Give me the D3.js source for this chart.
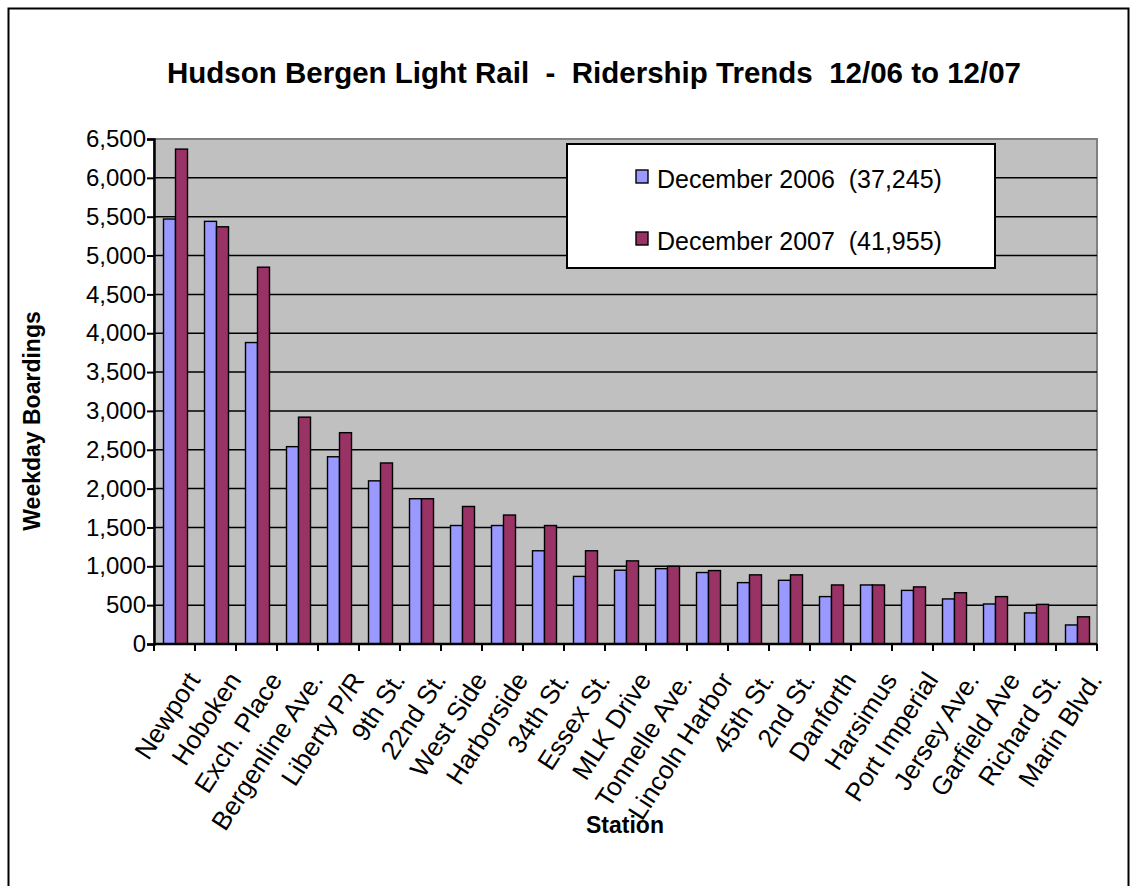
<!DOCTYPE html>
<html>
<head>
<meta charset="utf-8">
<title>HBLR Ridership Trends</title>
<script src="https://cdnjs.cloudflare.com/ajax/libs/d3/7.8.5/d3.min.js"></script>
<style>
body { margin: 0; background: #fff; }
text { font-family: Arial, "Liberation Sans", sans-serif; fill: #000; }
</style>
</head>
<body>
<script>
// stations, biggest first
var stations = ["Newport", "Hoboken", "Exch. Place", "Bergenline Ave.", "Liberty P/R",
  "9th St.", "22nd St.", "West Side", "Harborside", "34th St.", "Essex St.", "MLK Drive",
  "Tonnelle Ave.", "Lincoln Harbor", "45th St.", "2nd St.", "Danforth", "Harsimus",
  "Port Imperial", "Jersey Ave.", "Garfield Ave", "Richard St.", "Marin Blvd."];
var dec2006 = [5470, 5440, 3880, 2540, 2410, 2100, 1870, 1525, 1525, 1200, 870, 950,
  970, 920, 790, 820, 610, 760, 690, 580, 515, 400, 245];
var dec2007 = [6370, 5370, 4850, 2920, 2720, 2330, 1870, 1770, 1660, 1525, 1200, 1070,
  1000, 945, 890, 890, 760, 760, 735, 660, 610, 510, 350];
var seriesNames = ["December 2006  (37,245)", "December 2007  (41,955)"];
var seriesColors = ["#9999ff", "#993366"];
var yTicks = d3.range(0, 6501, 500);

var width = 1138, height = 886;
var pl = 154, pr = 1097, pt = 139, pb = 644;

var svg = d3.select("body").append("svg")
  .attr("width", width)
  .attr("height", height);

// chart frame
svg.append("rect")
  .attr("x", 8.5).attr("y", 8.5)
  .attr("width", 1120).attr("height", 900)
  .attr("fill", "#fff")
  .attr("stroke", "#000")
  .attr("stroke-width", 2);

var x = d3.scaleBand().domain(stations).range([pl, pr]);
var y = d3.scaleLinear().domain([0, 6500]).range([pb, pt]);
var xs = d3.scaleBand().domain([0, 1]).range([0, 24]);

// plot area
svg.append("rect")
  .attr("x", pl).attr("y", pt)
  .attr("width", pr - pl).attr("height", pb - pt)
  .attr("fill", "#c0c0c0")
  .attr("stroke", "#808080")
  .attr("stroke-width", 2);

svg.append("g").selectAll("line")
  .data(yTicks.filter(function(d){ return d > 0 && d < 6500; }))
  .enter().append("line")
  .attr("x1", pl).attr("x2", pr)
  .attr("y1", function(d){ return y(d); })
  .attr("y2", function(d){ return y(d); })
  .attr("stroke", "#000")
  .attr("stroke-width", 1.5);

// bars
var rows = stations.map(function(s, i){ return {name: s, v: [dec2006[i], dec2007[i]]}; });
var grp = svg.append("g").selectAll("g")
  .data(rows)
  .enter().append("g")
  .attr("transform", function(d){ return "translate(" + (x(d.name) + (x.bandwidth() - 24) / 2 + 1) + ",0)"; });
grp.selectAll("rect")
  .data(function(d){ return d.v; })
  .enter().append("rect")
  .attr("x", function(d, j){ return xs(j); })
  .attr("width", xs.bandwidth())
  .attr("y", function(d){ return y(d); })
  .attr("height", function(d){ return pb - y(d); })
  .attr("fill", function(d, j){ return seriesColors[j]; })
  .attr("stroke", "#000")
  .attr("stroke-width", 1.4);

// y axis
var yAxis = svg.append("g")
  .attr("transform", "translate(" + pl + ",0)")
  .call(d3.axisLeft(y).tickValues(yTicks).tickFormat(d3.format(",")).tickSize(7).tickPadding(1));
yAxis.select(".domain").attr("stroke", "#000").attr("stroke-width", 2.5);
yAxis.selectAll(".tick line").attr("stroke", "#000").attr("stroke-width", 2);
yAxis.selectAll("text").attr("font-size", 24).attr("font-family", "Arial, 'Liberation Sans', sans-serif");

// x axis
svg.append("line")
  .attr("x1", pl).attr("x2", pr)
  .attr("y1", pb).attr("y2", pb)
  .attr("stroke", "#000").attr("stroke-width", 2.5);
svg.append("g").selectAll("line")
  .data(d3.range(stations.length + 1))
  .enter().append("line")
  .attr("x1", function(i){ return pl + i * x.step(); })
  .attr("x2", function(i){ return pl + i * x.step(); })
  .attr("y1", pb).attr("y2", pb + 7)
  .attr("stroke", "#000").attr("stroke-width", 2);

svg.append("g").selectAll("text")
  .data(stations)
  .enter().append("text")
  .attr("transform", function(d){
    return "translate(" + (x(d) + x.bandwidth() / 2 + 19) + "," + (pb + 31) + ") rotate(-57)";
  })
  .attr("text-anchor", "end")
  .attr("dy", "0.35em")
  .attr("font-size", 26)
  .text(function(d){ return d; });

// titles
svg.append("text")
  .attr("x", 594).attr("y", 83)
  .attr("text-anchor", "middle")
  .attr("font-size", 29.5)
  .attr("font-weight", "bold")
  .style("white-space", "pre")
  .text("Hudson Bergen Light Rail  -  Ridership Trends  12/06 to 12/07");

svg.append("text")
  .attr("transform", "translate(40,421) rotate(-90)")
  .attr("text-anchor", "middle")
  .attr("font-size", 23)
  .attr("font-weight", "bold")
  .text("Weekday Boardings");

svg.append("text")
  .attr("x", 625).attr("y", 833)
  .attr("text-anchor", "middle")
  .attr("font-size", 23)
  .attr("font-weight", "bold")
  .text("Station");

// legend
var lg = svg.append("g").attr("transform", "translate(567,144)");
lg.append("rect")
  .attr("width", 428).attr("height", 124)
  .attr("fill", "#fff")
  .attr("stroke", "#000")
  .attr("stroke-width", 2);
var li = lg.selectAll("g.item")
  .data(seriesNames)
  .enter().append("g")
  .attr("class", "item")
  .attr("transform", function(d, i){ return "translate(69," + (26 + i * 62) + ")"; });
li.append("rect")
  .attr("width", 12).attr("height", 13)
  .attr("fill", function(d, i){ return seriesColors[i]; })
  .attr("stroke", "#000")
  .attr("stroke-width", 1.4);
li.append("text")
  .attr("x", 21).attr("y", 18)
  .attr("font-size", 25)
  .style("white-space", "pre")
  .text(function(d){ return d; });
</script>
</body>
</html>
